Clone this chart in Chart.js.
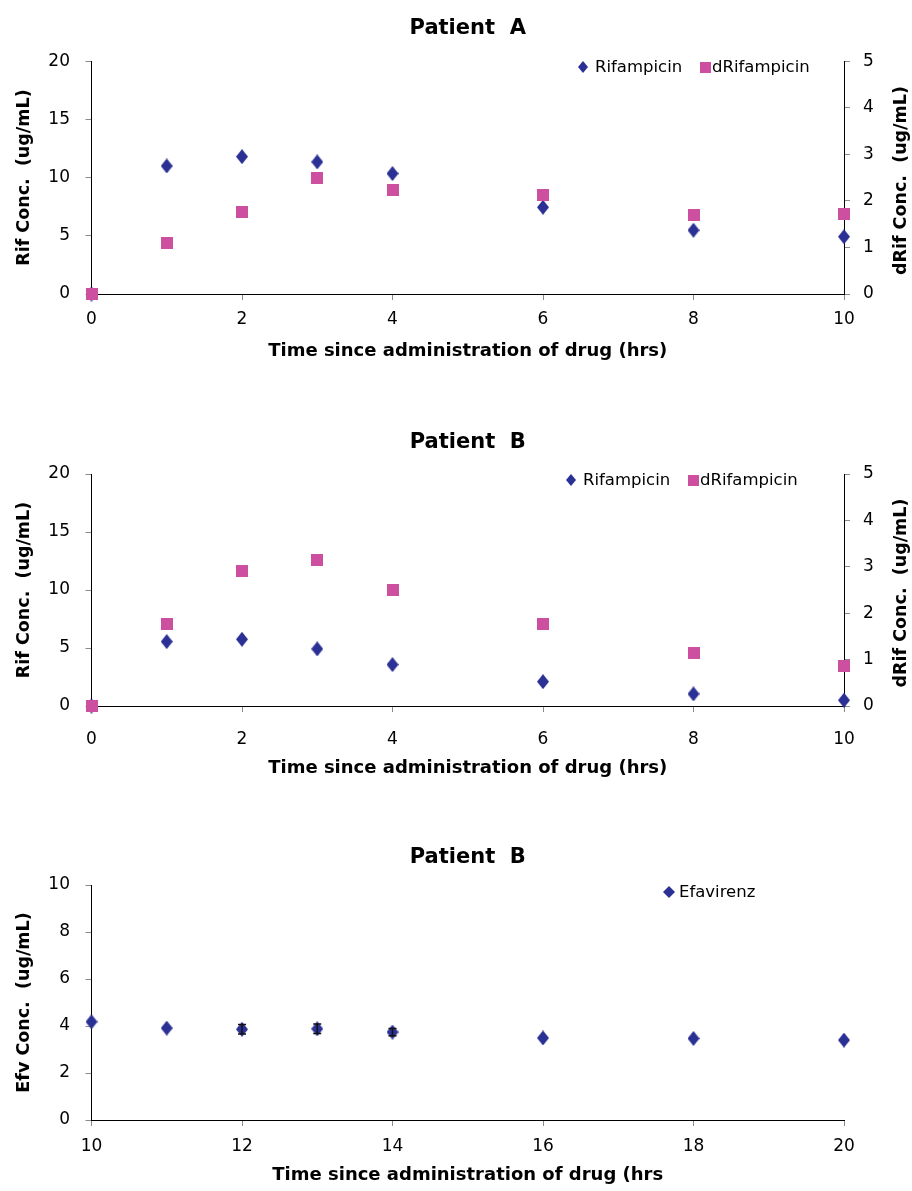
<!DOCTYPE html>
<html>
<head>
<meta charset="utf-8">
<script src="https://cdn.jsdelivr.net/npm/chart.js@4.4.1/dist/chart.umd.min.js"></script>
<style>
  body { margin: 0; background: #fff; width: 912px; height: 1191px; position: relative; overflow: hidden; }
  .box { position: absolute; left: 0; width: 912px; }
  .lg { position: absolute; font: 16.5px "DejaVu Sans", sans-serif; line-height: 20px; color: #000; white-space: nowrap; }
  .dia { position: absolute; background: #2b3194; clip-path: polygon(50% 0, 100% 50%, 50% 100%, 0 50%); }
  .sq { position: absolute; background: #cd4f9f; }
</style>
</head>
<body>
<div class="box" style="top:0;height:380px"><canvas id="chartA"></canvas></div>
<div class="box" style="top:400px;height:400px"><canvas id="chartB"></canvas></div>
<div class="box" style="top:820px;height:371px"><canvas id="chartC"></canvas></div>

<!-- legends -->
<div class="dia" style="left:578px;top:61px;width:10px;height:12px"></div>
<div class="lg" style="left:595px;top:57px">Rifampicin</div>
<div class="sq" style="left:700px;top:62px;width:11px;height:11px"></div>
<div class="lg" style="left:712px;top:57px">dRifampicin</div>

<div class="dia" style="left:566px;top:474px;width:10px;height:12px"></div>
<div class="lg" style="left:583px;top:470px">Rifampicin</div>
<div class="sq" style="left:688px;top:475px;width:11px;height:11px"></div>
<div class="lg" style="left:700px;top:470px">dRifampicin</div>

<div class="dia" style="left:663px;top:886px;width:12px;height:12px"></div>
<div class="lg" style="left:679px;top:882px">Efavirenz</div>

<script>
// time points (hrs)
const hoursRif = [0, 1, 2, 3, 4, 6, 8, 10];
const hoursEfv = [10, 11, 12, 13, 14, 16, 18, 20];

// Patient A
const rifA  = [0, 11.0, 11.8, 11.35, 10.35, 7.45, 5.48, 4.92];
const dRifA = [0, 1.09, 1.77, 2.50, 2.24, 2.13, 1.69, 1.71];

// Patient B
const rifB  = [0, 5.55, 5.75, 4.92, 3.57, 2.10, 1.04, 0.50];
const dRifB = [0, 1.77, 2.92, 3.15, 2.50, 1.77, 1.15, 0.86];

// Patient B, efavirenz
const efvB    = [4.18, 3.91, 3.86, 3.88, 3.74, 3.49, 3.47, 3.40];
const efvBErr = [0, 0, 0.2, 0.2, 0.15, 0, 0, 0];

const BLUE = '#2b3194';
const PINK = '#cd4f9f';
const FONT = '"DejaVu Sans", sans-serif';

function diamond(w, h, color) {
  const c = document.createElement('canvas');
  c.width = w; c.height = h;
  const g = c.getContext('2d');
  g.fillStyle = color;
  g.beginPath();
  g.moveTo(w / 2, 0); g.lineTo(w, h / 2); g.lineTo(w / 2, h); g.lineTo(0, h / 2);
  g.closePath(); g.fill();
  return c;
}
function square(s, color) {
  const c = document.createElement('canvas');
  c.width = s; c.height = s;
  const g = c.getContext('2d');
  g.fillStyle = color;
  g.fillRect(0, 0, s, s);
  return c;
}
const diaPt = diamond(12, 15, BLUE);
const sqPt = square(12, PINK);

function pts(xs, ys) {
  return xs.map((x, i) => ({ x: x, y: ys[i] }));
}

Chart.defaults.color = '#000';
Chart.defaults.font.family = FONT;
Chart.defaults.animation = false;

const tickFont = { family: FONT, size: 17 };
const grid = { drawOnChartArea: false, color: '#8a8a8a', tickLength: 6 };
const border = { color: '#000', width: 1 };

// right axis title reads bottom-to-top, so drawn here
function rightTitle(text) {
  return {
    id: 'rightTitle',
    afterDraw(chart) {
      const a = chart.chartArea, ctx = chart.ctx;
      ctx.save();
      ctx.translate(901, (a.top + a.bottom) / 2 + 3);
      ctx.rotate(-Math.PI / 2);
      ctx.font = 'bold 17.5px ' + FONT;
      ctx.fillStyle = '#000';
      ctx.textAlign = 'center';
      ctx.textBaseline = 'middle';
      ctx.fillText(text, 0, 0);
      ctx.restore();
    }
  };
}

function errorBars(vals, errs) {
  return {
    id: 'errorBars',
    afterDatasetsDraw(chart) {
      const ctx = chart.ctx, xs = chart.scales.x, ys = chart.scales.y;
      ctx.save();
      ctx.strokeStyle = '#111';
      ctx.lineWidth = 1.5;
      hoursEfv.forEach((h, i) => {
        if (!errs[i]) return;
        const px = xs.getPixelForValue(h);
        const y1 = ys.getPixelForValue(vals[i] + errs[i]);
        const y2 = ys.getPixelForValue(vals[i] - errs[i]);
        ctx.beginPath();
        ctx.moveTo(px, y1); ctx.lineTo(px, y2);
        ctx.moveTo(px - 4, y1); ctx.lineTo(px + 4, y1);
        ctx.moveTo(px - 4, y2); ctx.lineTo(px + 4, y2);
        ctx.stroke();
      });
      ctx.restore();
    }
  };
}

function rifChart(id, title, rif, dRif, lay) {
  const H = lay.height;
  return new Chart(document.getElementById(id), {
    type: 'scatter',
    data: {
      datasets: [
        { label: 'Rifampicin', data: pts(hoursRif, rif), yAxisID: 'y', order: 2,
          pointStyle: diaPt, pointRadius: 6, clip: false },
        { label: 'dRifampicin', data: pts(hoursRif, dRif), yAxisID: 'y2', order: 1,
          pointStyle: sqPt, pointRadius: 6, clip: false }
      ]
    },
    options: {
      responsive: true,
      maintainAspectRatio: false,
      layout: { padding: 0 },
      plugins: {
        legend: { display: false },
        tooltip: { enabled: false },
        title: {
          display: true, text: title, fullSize: false, color: '#000',
          font: { family: FONT, size: 21, weight: 'bold' },
          padding: { top: lay.titleTop, bottom: lay.titleBottom }
        }
      },
      scales: {
        x: {
          type: 'linear', min: 0, max: 10,
          ticks: { stepSize: 2, font: tickFont, padding: lay.xTickPad },
          grid: grid, border: border,
          title: { display: true, text: 'Time since administration of drug (hrs)',
                   font: { family: FONT, size: 18, weight: 'bold' },
                   padding: { top: 0, bottom: lay.xTitlePad } },
          afterFit: s => { s.height = H - lay.bottom; }
        },
        y: {
          position: 'left', min: 0, max: 20,
          ticks: { stepSize: 5, font: tickFont, padding: 15.5 },
          grid: grid, border: border,
          title: { display: true, text: 'Rif Conc.  (ug/mL)',
                   font: { family: FONT, size: 17.5, weight: 'bold' },
                   padding: { top: 13.5, bottom: 0 } },
          afterFit: s => { s.width = 91.5; }
        },
        y2: {
          position: 'right', min: 0, max: 5,
          ticks: { stepSize: 1, font: tickFont, padding: 13 },
          grid: grid, border: border,
          afterFit: s => { s.width = 68; }
        }
      }
    },
    plugins: [rightTitle('dRif Conc.  (ug/mL)')]
  });
}

rifChart('chartA', 'Patient  A', rifA, dRifA,
  { height: 380, bottom: 294, titleTop: 15.5, titleBottom: 20.5, xTickPad: 9.8, xTitlePad: 18 });
rifChart('chartB', 'Patient  B', rifB, dRifB,
  { height: 400, bottom: 306, titleTop: 30.4, titleBottom: 18.4, xTickPad: 17.5, xTitlePad: 21 });

new Chart(document.getElementById('chartC'), {
  type: 'scatter',
  data: {
    datasets: [
      { label: 'Efavirenz', data: pts(hoursEfv, efvB),
        pointStyle: diaPt, pointRadius: 6, clip: false }
    ]
  },
  options: {
    responsive: true,
    maintainAspectRatio: false,
    layout: { padding: { right: 68 } },
    plugins: {
      legend: { display: false },
      tooltip: { enabled: false },
      title: {
        display: true, text: 'Patient  B', fullSize: false, color: '#000',
        font: { family: FONT, size: 21, weight: 'bold' },
        padding: { top: 24.5, bottom: 15.3 }
      }
    },
    scales: {
      x: {
        type: 'linear', min: 10, max: 20,
        ticks: { stepSize: 2, font: tickFont, padding: 10.8 },
        grid: grid, border: border,
        title: { display: true, text: 'Time since administration of drug (hrs',
                 font: { family: FONT, size: 18, weight: 'bold' },
                 padding: { top: 0, bottom: 5 } },
        afterFit: s => { s.height = 371 - 300; }
      },
      y: {
        position: 'left', min: 0, max: 10,
        ticks: { stepSize: 2, font: tickFont, padding: 15.5 },
        grid: grid, border: border,
        title: { display: true, text: 'Efv Conc.  (ug/mL)',
                 font: { family: FONT, size: 17.5, weight: 'bold' },
                 padding: { top: 13.5, bottom: 0 } },
        afterFit: s => { s.width = 91.5; }
      }
    }
  },
  plugins: [errorBars(efvB, efvBErr)]
});
</script>
</body>
</html>
